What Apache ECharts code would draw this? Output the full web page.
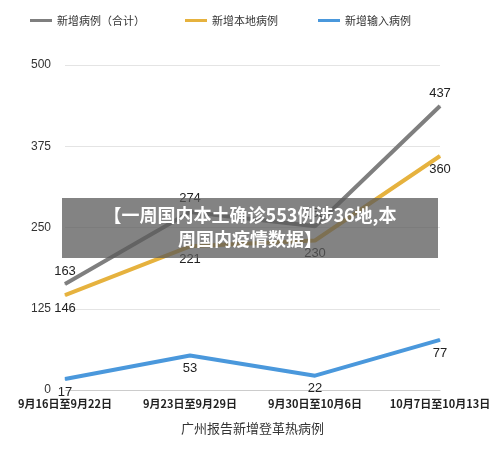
<!DOCTYPE html><html><head><meta charset="utf-8"><script src="https://cdn.jsdelivr.net/npm/echarts@6/dist/echarts.min.js"></script>
<style>body{margin:0}#c{width:500px;height:458px}</style></head><body><div id="c"></div><script>
const categories=['9月16日至9月22日','9月23日至9月29日','9月30日至10月6日','10月7日至10月13日'];
const total=[163,274,252,437];
const local=[146,221,230,360];
const imported=[17,53,22,77];
const yTicks=[0,125,250,375,500];
const ch=echarts.init(document.getElementById('c'));
const lbl=(pos)=>({show:true,position:pos,distance:6,color:'#222',fontSize:13,fontFamily:'Liberation Sans'});
const common={type:'line',symbol:'circle',symbolSize:1,showSymbol:true,z:2};
ch.setOption({
 animation:false,
 legend:{top:10,left:25,itemGap:40,itemWidth:22,itemHeight:3,icon:'rect',textStyle:{fontSize:11,color:'#333',fontFamily:'Noto Sans CJK SC'}},
 grid:{left:65,right:60,top:65,bottom:68},
 xAxis:{type:'category',boundaryGap:false,data:categories,name:'广州报告新增登革热病例',nameLocation:'middle',nameGap:32,nameTextStyle:{fontSize:13,color:'#333',fontFamily:'Noto Sans CJK SC'},
  axisLine:{lineStyle:{color:'#ccc'}},axisTick:{show:false},axisLabel:{color:'#222',fontWeight:'bold',fontSize:11,fontFamily:'Noto Sans CJK SC',interval:0}},
 yAxis:{type:'value',min:0,max:500,interval:125,axisLabel:{color:'#333',fontSize:12,margin:14},splitLine:{lineStyle:{color:'#e4e4e4'}}},
 series:[
  Object.assign({name:'新增病例（合计）',data:total,lineStyle:{width:4,color:'#7f7f7f'},itemStyle:{color:'#7f7f7f'},label:lbl('top')},common),
  Object.assign({name:'新增本地病例',data:local,lineStyle:{width:4,color:'#e6b23e'},itemStyle:{color:'#e6b23e'},label:lbl('bottom')},common),
  Object.assign({name:'新增输入病例',data:imported,lineStyle:{width:4,color:'#4a98dc'},itemStyle:{color:'#4a98dc'},label:lbl('bottom')},common)
 ],
 graphic:[{type:'rect',z:100,left:62,top:198,shape:{width:376,height:60},style:{fill:'rgba(90,90,90,0.75)'}},
  {type:'text',z:101,left:'center',top:203,style:{text:'【一周国内本土确诊553例涉36地,本\n周国内疫情数据】',fill:'#fff',font:'bold 18px "Noto Sans CJK SC"',textAlign:'center',lineHeight:24}}]
});
</script></body></html>
